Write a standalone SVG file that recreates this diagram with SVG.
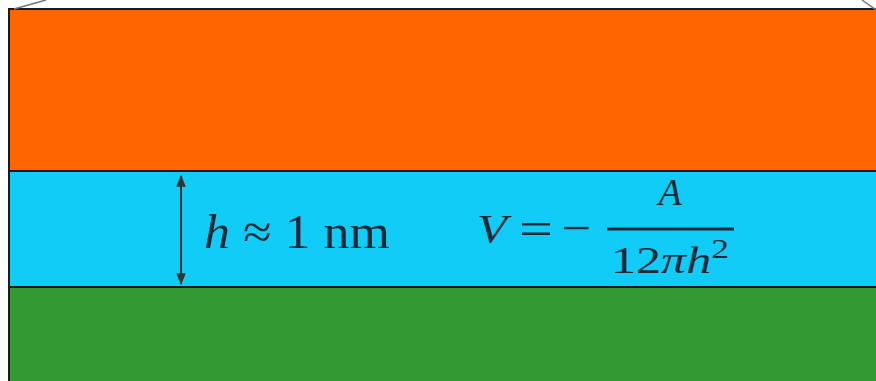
<svg xmlns="http://www.w3.org/2000/svg" width="876" height="381" viewBox="0 0 876 381">
<style>
.layer{stroke:#1a1a1a;stroke-width:2}
.t{font-family:"Liberation Serif",serif;fill:#1b2a38}
</style>
<defs>
<marker id="ah" viewBox="0 0 10 10" refX="9" refY="5" markerWidth="6" markerHeight="6" orient="auto-start-reverse">
<path d="M0,1 L10,5 L0,9 z" fill="#333"/>
</marker>
</defs>
<rect width="876" height="381" fill="#ffffff"/>
<g id="top-layer"><rect class="layer" x="9" y="9" width="880" height="162" fill="#ff6600"/></g>
<g id="middle-layer"><rect class="layer" x="9" y="171" width="880" height="116" fill="#10ccf7"/></g>
<g id="bottom-layer"><rect class="layer" x="9" y="287" width="880" height="110" fill="#339933"/></g>
<g id="corners" stroke="#777" stroke-width="1.5" fill="none">
<line x1="14" y1="9" x2="46" y2="0"/>
<line x1="862" y1="0" x2="876" y2="10"/>
</g>
<g id="connectors">
<line x1="181" y1="176" x2="181" y2="284" stroke="#333" stroke-width="2" marker-start="url(#ah)" marker-end="url(#ah)"/>
</g>
<g id="label-h">
<text class="t" x="204" y="248" font-size="48" textLength="186" lengthAdjust="spacingAndGlyphs"><tspan font-style="italic">h</tspan> ≈ 1 nm</text>
</g>
<g id="formula">
<text class="t" x="477" y="242" font-size="40" font-style="italic" textLength="30" lengthAdjust="spacingAndGlyphs">V</text>
<text class="t" x="519" y="245" font-size="48" textLength="34" lengthAdjust="spacingAndGlyphs">=</text>
<text class="t" x="561" y="244" font-size="48" textLength="30" lengthAdjust="spacingAndGlyphs">−</text>
<line x1="607" y1="229" x2="734" y2="229" stroke="#1b2a38" stroke-width="3"/>
<text class="t" x="670" y="205" font-size="38" font-style="italic" text-anchor="middle">A</text>
<text class="t" x="611" y="273" font-size="38" textLength="118" lengthAdjust="spacingAndGlyphs">12<tspan font-style="italic">πh</tspan><tspan font-size="27" dy="-15">2</tspan></text>
</g>
</svg>
